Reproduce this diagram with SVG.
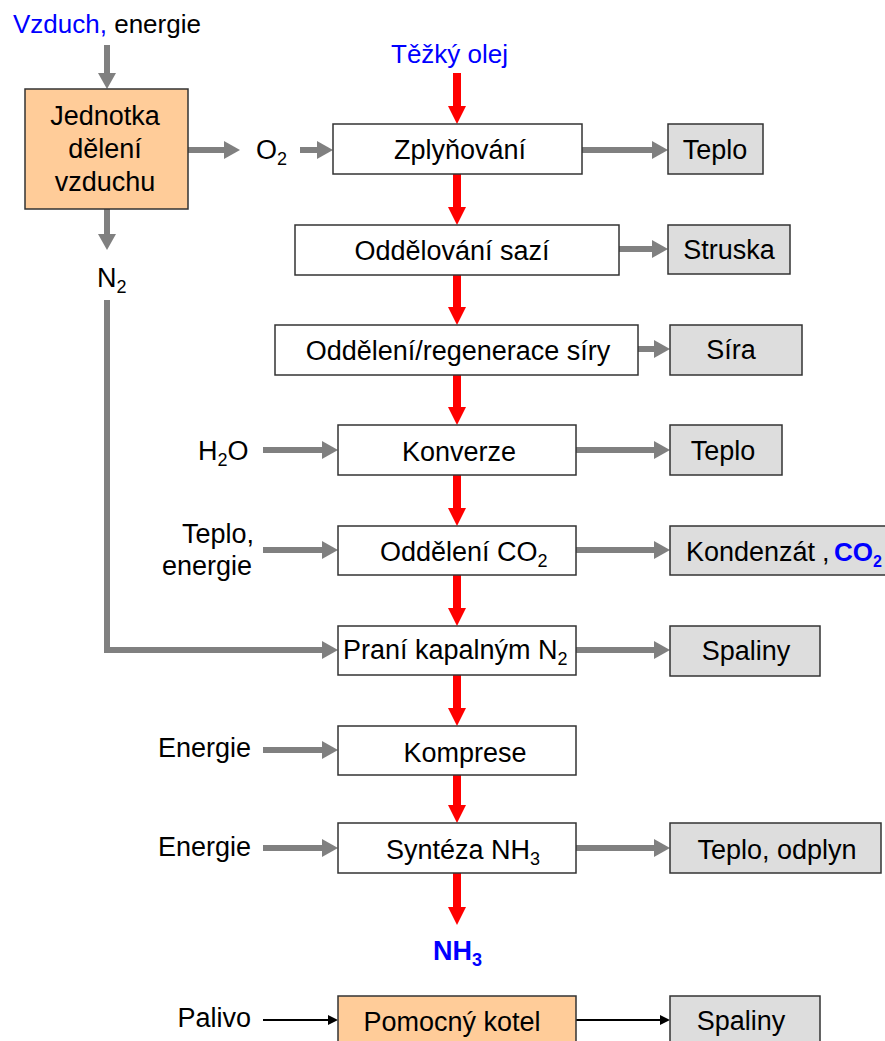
<svg xmlns="http://www.w3.org/2000/svg" width="885" height="1041" viewBox="0 0 885 1041">
<style>
text{font-family:"Liberation Sans",Arial,sans-serif;font-size:27px;fill:#000}
.c{text-anchor:middle}
.e{text-anchor:end}
.blue{fill:#0000FF}
.b{font-weight:bold}
.sub{font-size:18px}
.proc{fill:#FFFFFF;stroke:#333;stroke-width:1.5}
.out{fill:#DDDDDD;stroke:#333;stroke-width:1.5}
.peach{fill:#FFCC99;stroke:#333;stroke-width:1.5}
.g{stroke:#808080;stroke-width:6;fill:none;marker-end:url(#ag)}
.r{stroke:#FF0000;stroke-width:8;fill:none;marker-end:url(#ar)}
.k{stroke:#000;stroke-width:2;fill:none;marker-end:url(#ak)}
</style>
<defs>
<marker id="ag" markerUnits="userSpaceOnUse" markerWidth="16" markerHeight="18" viewBox="0 0 16 18" refX="0" refY="9" orient="auto" overflow="visible"><path d="M0,0 L16,9 L0,18 z" fill="#808080"/></marker>
<marker id="ar" markerUnits="userSpaceOnUse" markerWidth="18" markerHeight="18" viewBox="0 0 18 18" refX="0" refY="9" orient="auto" overflow="visible"><path d="M0,0 L18,9 L0,18 z" fill="#FF0000"/></marker>
<marker id="ak" markerUnits="userSpaceOnUse" markerWidth="10" markerHeight="10" viewBox="0 0 10 10" refX="0" refY="5" orient="auto" overflow="visible"><path d="M0,0 L10,5 L0,10 z" fill="#000"/></marker>
</defs>
<rect width="885" height="1041" fill="#FFFFFF"/>

<g id="connectors">
<path class="g" d="M107,45 V73"/>
<path class="g" d="M188,150 H224"/>
<path class="g" d="M300,150 H317"/>
<path class="g" d="M107,209 V234"/>
<path class="g" d="M107,300 V650 H322"/>
<path class="g" d="M263,450 H322"/>
<path class="g" d="M263,550 H322"/>
<path class="g" d="M263,750 H322"/>
<path class="g" d="M263,848 H322"/>
<path class="g" d="M582,150 H652"/>
<path class="g" d="M619,249 H652"/>
<path class="g" d="M638,349 H654"/>
<path class="g" d="M576,450 H654"/>
<path class="g" d="M576,550 H654"/>
<path class="g" d="M576,650 H654"/>
<path class="g" d="M576,848 H654"/>
<path class="r" d="M457,73 V106"/>
<path class="r" d="M457,174 V207"/>
<path class="r" d="M457,275 V307"/>
<path class="r" d="M457,375 V407"/>
<path class="r" d="M457,475 V508"/>
<path class="r" d="M457,575 V608"/>
<path class="r" d="M457,675 V708"/>
<path class="r" d="M457,775 V805"/>
<path class="r" d="M457,873 V907"/>
<path class="k" d="M263,1020 H328"/>
<path class="k" d="M576,1020 H660"/>
</g>

<g id="label-vzduch"><text x="13" y="33" style="font-size:26px"><tspan class="blue">Vzduch,</tspan> energie</text></g>
<g id="label-tezky"><text x="391" y="63" class="blue" style="font-size:26px">Těžký olej</text></g>

<g id="node-jednotka">
<rect class="peach" x="25" y="89" width="163" height="120"/>
<text class="c" x="105" y="125">Jednotka</text>
<text class="c" x="105" y="158">dělení</text>
<text class="c" x="105" y="191">vzduchu</text>
</g>
<g id="label-o2"><text x="256" y="159">O<tspan class="sub" dy="6">2</tspan></text></g>
<g id="label-n2"><text x="97" y="287">N<tspan class="sub" dy="6">2</tspan></text></g>
<g id="label-h2o"><text x="198" y="460">H<tspan class="sub" dy="6">2</tspan><tspan dy="-6">O</tspan></text></g>
<g id="label-teplo-energie"><text class="e" x="254" y="543">Teplo,</text><text class="e" x="252" y="575">energie</text></g>
<g id="label-energie1"><text class="e" x="251" y="757">Energie</text></g>
<g id="label-energie2"><text class="e" x="251" y="856">Energie</text></g>
<g id="label-palivo"><text class="e" x="251" y="1027">Palivo</text></g>

<g id="node-zplynovani"><rect class="proc" x="333" y="124" width="249" height="50"/><text class="c" x="460" y="159">Zplyňování</text></g>
<g id="node-sazi"><rect class="proc" x="295" y="225" width="324" height="50"/><text class="c" x="452" y="260">Oddělování sazí</text></g>
<g id="node-siry"><rect class="proc" x="275" y="325" width="363" height="50"/><text class="c" x="458" y="360">Oddělení/regenerace síry</text></g>
<g id="node-konverze"><rect class="proc" x="338" y="425" width="238" height="50"/><text class="c" x="459" y="461">Konverze</text></g>
<g id="node-co2"><rect class="proc" x="338" y="526" width="238" height="49"/><text x="380" y="561">Oddělení CO<tspan class="sub" dy="6">2</tspan></text></g>
<g id="node-prani"><rect class="proc" x="338" y="626" width="238" height="49"/><text x="343" y="659">Praní kapalným N<tspan class="sub" dy="6">2</tspan></text></g>
<g id="node-komprese"><rect class="proc" x="338" y="726" width="238" height="49"/><text class="c" x="465" y="762">Komprese</text></g>
<g id="node-synteza"><rect class="proc" x="338" y="823" width="238" height="50"/><text x="386" y="859">Syntéza NH<tspan class="sub" dy="6">3</tspan></text></g>
<g id="label-nh3"><text x="433" y="960" class="blue b">NH<tspan class="sub" dy="6">3</tspan></text></g>
<g id="node-kotel"><rect class="peach" x="338" y="996" width="238" height="60"/><text class="c" x="452" y="1031">Pomocný kotel</text></g>

<g id="out-teplo1"><rect class="out" x="668" y="124" width="95" height="50"/><text class="c" x="715" y="159">Teplo</text></g>
<g id="out-struska"><rect class="out" x="668" y="225" width="122" height="49"/><text class="c" x="729" y="259">Struska</text></g>
<g id="out-sira"><rect class="out" x="670" y="325" width="132" height="50"/><text class="c" x="731" y="359">Síra</text></g>
<g id="out-teplo2"><rect class="out" x="670" y="425" width="112" height="50"/><text class="c" x="723" y="460">Teplo</text></g>
<g id="out-kondenzat"><rect class="out" x="670" y="526" width="240" height="49"/><text x="686" y="561">Kondenzát<tspan x="822">,</tspan><tspan x="834" class="blue b" style="font-size:26px">CO</tspan><tspan class="blue b" style="font-size:16px" dy="6">2</tspan></text></g>
<g id="out-spaliny1"><rect class="out" x="670" y="626" width="150" height="50"/><text class="c" x="746" y="660">Spaliny</text></g>
<g id="out-teplo-odplyn"><rect class="out" x="670" y="823" width="211" height="50"/><text class="c" x="777" y="859">Teplo, odplyn</text></g>
<g id="out-spaliny2"><rect class="out" x="670" y="996" width="150" height="60"/><text class="c" x="741" y="1030">Spaliny</text></g>
</svg>
